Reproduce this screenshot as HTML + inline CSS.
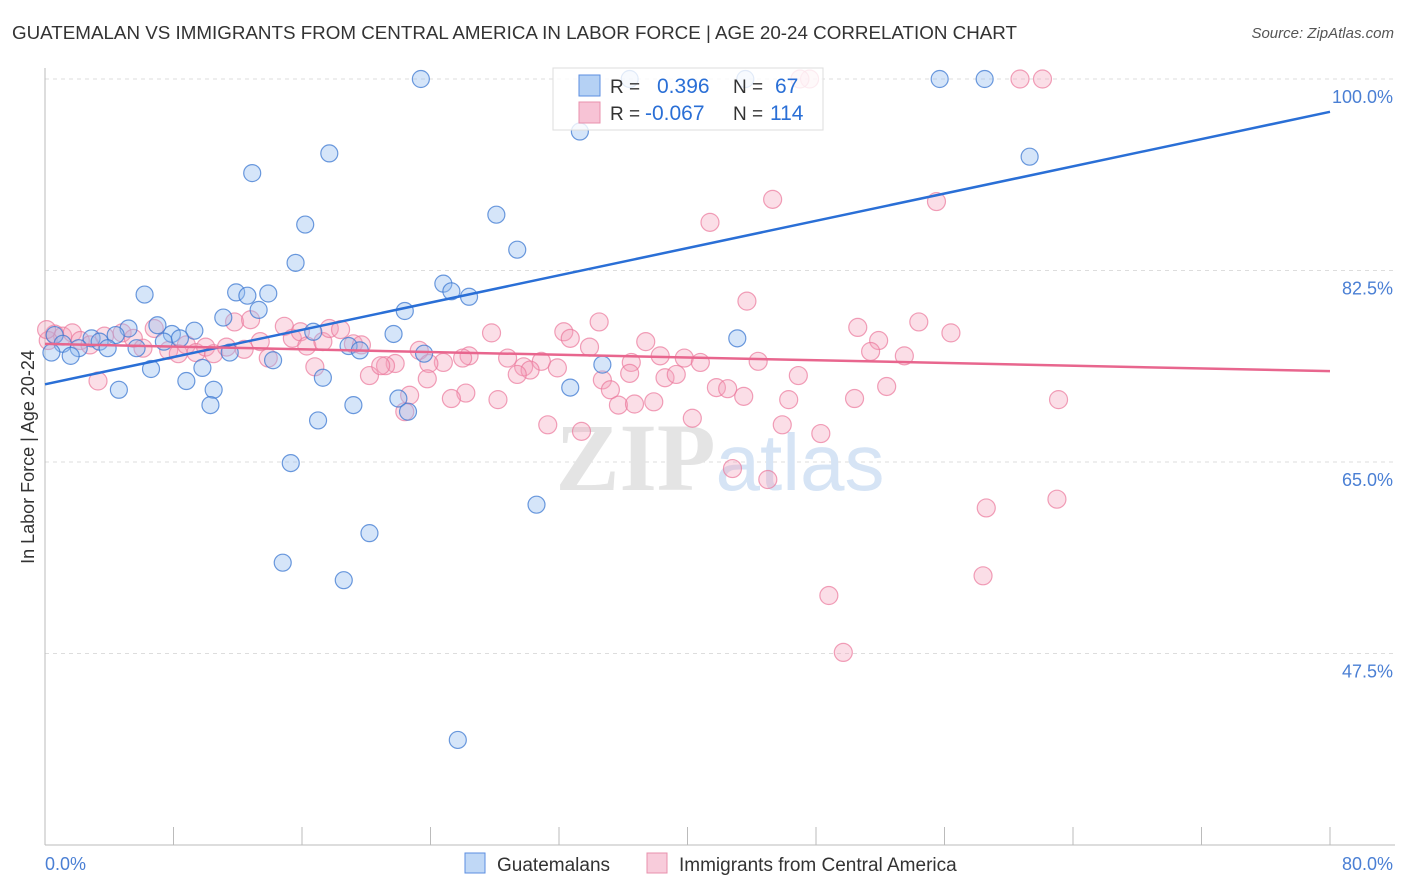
<!DOCTYPE html>
<html><head><meta charset="utf-8"><style>
body{margin:0;background:#fff;font-family:"Liberation Sans",sans-serif}
#wrap{position:relative;width:1406px;height:892px}
.t{position:absolute;white-space:nowrap}
</style></head><body>
<div id="wrap">
<div class="t" style="left:12px;top:22px;font-size:18.8px;color:#333">GUATEMALAN VS IMMIGRANTS FROM CENTRAL AMERICA IN LABOR FORCE | AGE 20-24 CORRELATION CHART</div>
<div class="t" style="right:12px;top:25px;font-size:15px;color:#555;font-style:italic">Source: ZipAtlas.com</div>
<svg id="svg" width="1406" height="892" style="position:absolute;left:0;top:0"></svg>
</div>
<script>
const blueX=[23.4,43.6,55.7,58.5,33.3,61.3,17.7,12.9,16.2,28.1,29.4,15.6,24.8,25.3,26.4,11.9,12.6,13.9,6.2,22.4,11.1,13.3,5.2,7.0,7.9,9.3,16.7,21.7,0.6,1.1,2.9,3.4,4.4,2.1,3.9,5.7,0.4,1.6,7.4,8.4,11.5,14.2,18.9,19.6,23.6,43.1,6.6,9.8,8.8,10.5,4.6,17.3,32.7,34.7,10.3,19.2,22.0,22.6,17.0,15.3,30.6,20.2,14.8,18.6,25.7,36.4];
const blueY=[100,100,100,100,95.2,92.9,93.2,91.4,86.7,87.6,84.4,83.2,81.3,80.6,80.1,80.5,80.2,80.4,80.3,78.8,78.2,78.9,77.2,77.5,76.7,77.0,76.9,76.7,76.6,75.8,76.3,76.0,76.6,75.4,75.4,75.4,75.0,74.7,76.0,76.3,75.0,74.3,75.6,75.2,74.9,76.3,73.5,73.6,72.4,71.6,71.6,72.7,71.8,73.9,70.2,70.2,70.8,69.6,68.8,64.9,61.1,58.5,55.8,54.2,39.6,100];
const pinkX=[60.7,62.1,47.6,47.0,45.3,55.5,41.4,43.7,54.4,56.4,50.6,51.9,51.4,53.5,34.5,32.3,32.7,33.9,27.8,37.4,38.3,39.8,40.8,44.4,36.5,30.9,28.8,26.4,26.0,24.8,23.3,23.9,21.8,21.2,29.8,30.2,29.4,31.9,34.7,36.4,38.6,39.3,41.8,42.5,46.9,52.4,50.4,43.5,46.3,35.2,35.7,36.7,37.9,28.2,26.2,25.3,23.8,22.7,22.4,20.2,63.1,40.3,45.9,48.3,31.3,33.4,42.8,45.0,63.0,58.6,58.4,48.8,49.7,3.3,0.6,1.1,1.7,2.2,2.8,3.7,4.8,5.5,6.1,6.8,7.7,8.3,8.8,9.4,10.0,10.5,11.3,11.8,12.4,12.8,13.4,13.9,14.9,15.4,15.9,16.3,16.8,17.3,17.7,18.4,19.2,19.7,20.9,0.2,0.1];
const pinkY=[100,100,100,100,89.0,88.8,86.9,79.7,77.8,76.8,77.3,76.1,75.1,74.7,77.8,76.9,76.3,75.5,76.8,76.0,74.7,74.5,74.1,74.2,74.1,74.2,74.5,74.7,74.5,74.1,75.2,74.0,74.0,73.8,73.7,73.4,73.0,73.6,72.5,73.1,72.7,73.0,71.8,71.7,72.9,71.9,70.8,71.0,70.7,71.6,70.2,70.3,70.5,70.7,71.3,70.8,72.6,71.1,69.6,72.9,70.7,69.0,68.4,67.6,68.4,67.8,64.4,63.4,61.6,60.8,54.6,52.8,47.6,72.4,76.7,76.5,76.8,76.1,75.7,76.5,76.8,76.3,75.4,77.2,75.2,74.9,75.7,75.0,75.5,74.9,75.5,77.8,75.3,78.0,76.0,74.5,77.4,76.3,76.9,75.6,73.7,76.0,77.2,77.1,75.8,75.7,73.8,76.1,77.1];
const blueTrend=[72.1,97.0];
const pinkTrend=[75.8,73.3];
const yTicks=[100,82.5,65,47.5];
const NS="http://www.w3.org/2000/svg",svg=document.getElementById('svg');
const X0=45,X1=1330,Y100=79,PX=191.5/17.5;
const sx=v=>X0+v/80*(X1-X0), sy=v=>Y100+(100-v)*PX;
function mk(tag,at){const e=document.createElementNS(NS,tag);for(const k in at)e.setAttribute(k,at[k]);svg.appendChild(e);return e;}
yTicks.forEach(v=>{
 const l=mk('line',{x1:X0,x2:1395,y1:sy(v),y2:sy(v),stroke:'#ddd','stroke-dasharray':'4,4'});
 
 
 const t=mk('text',{x:1393,y:sy(v)+24,'text-anchor':'end','font-size':18,fill:'#4a7fd4','font-family':'Liberation Sans'});t.textContent=v.toFixed(1)+'%';
 
 
});
const ax=mk('line',{x1:X0,x2:X0,y1:68,y2:845,stroke:'#bbb'});


const bx=mk('line',{x1:X0,x2:1395,y1:845,y2:845,stroke:'#bbb'});


for(let i=0;i<=10;i++){const tk=mk('line',{x1:sx(i*8),x2:sx(i*8),y1:827,y2:845,stroke:'#bbb'});
 
 }
[[0,'0.0%','start',45],[80,'80.0%','end',1393]].forEach(a=>{const t=mk('text',{x:a[3],y:870,'text-anchor':a[2],'font-size':18,fill:'#4a7fd4','font-family':'Liberation Sans'});t.textContent=a[1];
 
 });
const yt=mk('text',{x:34,y:457,'text-anchor':'middle','font-size':18,fill:'#333',transform:'rotate(-90 34 457)','font-family':'Liberation Sans'});yt.textContent='In Labor Force | Age 20-24';


const wm=mk('text',{x:720,y:490,'text-anchor':'middle','font-size':96,fill:'#e4e4e4','font-family':'Liberation Serif','font-weight':'bold'});wm.innerHTML='ZIP<tspan fill="#d6e4f5" font-family="Liberation Sans" font-weight="normal" font-size="80">atlas</tspan>';


pinkX.forEach((x,i)=>{const c=mk('circle',{cx:sx(x),cy:sy(pinkY[i]),r:9,fill:'rgba(244,160,185,0.35)',stroke:'rgba(235,120,155,0.7)','stroke-width':1.2});
 
 });
blueX.forEach((x,i)=>{const c=mk('circle',{cx:sx(x),cy:sy(blueY[i]),r:8.5,fill:'rgba(150,190,240,0.4)',stroke:'rgba(60,120,210,0.75)','stroke-width':1.2});
 
 });
const bl=mk('line',{x1:sx(0),y1:sy(blueTrend[0]),x2:sx(80),y2:sy(blueTrend[1]),stroke:'#2a6fd6','stroke-width':2.5});


const pl=mk('line',{x1:sx(0),y1:sy(pinkTrend[0]),x2:sx(80),y2:sy(pinkTrend[1]),stroke:'#e8668e','stroke-width':2.5});


const lb=mk('rect',{x:553,y:68,width:270,height:62,fill:'rgba(255,255,255,0.8)',stroke:'#ddd'});


[[86,'rgba(150,190,240,0.7)','#5b8ee0','0.396','67',657,775],[113,'rgba(244,170,195,0.7)','#e890ad','-0.067','114',645,770]].forEach(r=>{
 const s=mk('rect',{x:579,y:r[0]-11,width:21,height:21,fill:r[1],stroke:r[2]});
 
 
 const t=mk('text',{x:610,y:r[0]+7,'font-size':19,fill:'#333','font-family':'Liberation Sans'});
 t.innerHTML='R = <tspan fill="#2a6fd6" font-size="21" x="'+r[5]+'">'+r[3]+'</tspan><tspan x="733">N = </tspan><tspan fill="#2a6fd6" font-size="21" x="'+r[6]+'">'+r[4]+'</tspan>';
 
 
});
[[465,'rgba(150,190,240,0.6)','#5b8ee0','Guatemalans',497],[647,'rgba(244,170,195,0.6)','#e890ad','Immigrants from Central America',679]].forEach(r=>{
 const s=mk('rect',{x:r[0],y:853,width:20,height:20,fill:r[1],stroke:r[2]});
 
 
 const t=mk('text',{x:r[4],y:871,'font-size':19,fill:'#333','font-family':'Liberation Sans'});t.textContent=r[3];
 
 
});
</script>
</body></html>
